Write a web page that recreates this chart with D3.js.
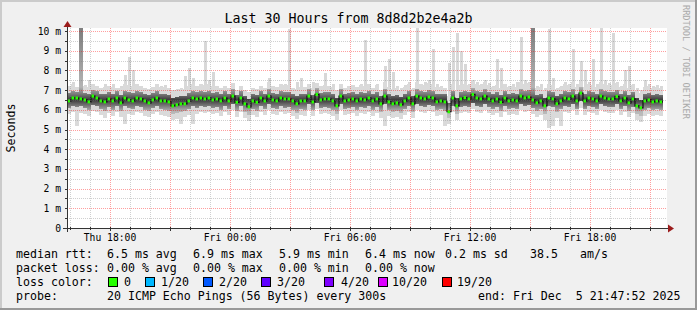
<!DOCTYPE html>
<html>
<head>
<meta charset="utf-8">
<script src="https://cdn.jsdelivr.net/npm/d3@7"></script>
<style>
body { margin: 0; background: #fff; }
svg text { font-family: "DejaVu Sans Mono", monospace; white-space: pre; }
</style>
</head>
<body>
<div id="wrapper"></div>
<script>
// one sample every 12 minutes, values in ms
const med = [
  6.45,6.6,6.6,6.55,6.5,6.4,6.7,6.6,6.45,6.4,
  6.55,6.45,6.6,6.35,6.6,6.5,6.45,6.6,6.55,6.45,
  6.35,6.5,6.6,6.45,6.45,6.4,6.2,6.25,6.3,6.3,
  6.45,6.6,6.55,6.6,6.55,6.6,6.5,6.55,6.45,6.6,
  6.45,6.7,6.38,6.6,6.3,6.15,6.45,6.38,6.6,6.45,
  6.7,6.5,6.45,6.6,6.55,6.55,6.45,6.3,6.45,6.45,
  6.7,6.4,6.78,6.5,6.55,6.55,6.45,6.2,6.7,6.45,
  6.5,6.55,6.45,6.55,6.5,6.6,6.45,6.55,6.3,6.7,
  6.4,6.3,6.35,6.25,6.45,6.6,6.3,6.7,6.6,6.55,
  6.65,6.6,6.4,6.45,6.4,5.9,6.6,6.2,6.55,6.62,
  6.55,6.78,6.6,6.55,6.7,6.55,6.45,6.55,6.38,6.6,
  6.45,6.5,6.45,6.7,6.6,6.65,6.5,6.35,6.45,6.2,
  6.6,6.55,6.3,6.45,6.6,6.55,6.7,6.45,6.85,6.45,
  6.6,6.55,6.45,6.7,6.6,6.55,6.55,6.68,6.45,6.6,
  6.35,6.55,6.2,6.1,6.45,6.5,6.4,6.45,6.4
];
const lo = [
  6.1,6.2,6.15,6.2,6.1,6.0,6.25,6.2,6.05,5.95,
  6.15,6.0,6.2,5.95,6.2,6.1,6.05,6.2,6.15,6.0,
  5.95,6.1,6.2,6.05,6.0,5.95,5.8,5.85,5.9,5.95,
  6.05,6.2,6.1,6.2,6.15,6.2,6.1,6.15,6.0,6.2,
  6.05,6.3,5.95,6.2,5.9,5.75,6.05,5.95,6.2,6.05,
  6.3,6.1,6.05,6.2,6.1,6.15,6.0,5.85,6.05,6.0,
  6.3,6.0,6.35,6.1,6.15,6.1,6.0,5.8,6.3,6.05,
  6.1,6.15,6.0,6.15,6.1,6.2,6.0,6.15,5.9,6.3,
  6.0,5.9,5.95,5.85,6.05,6.2,5.9,6.3,6.2,6.15,
  6.25,6.2,6.0,6.05,5.95,5.6,6.2,5.8,6.15,6.2,
  6.15,6.35,6.2,6.15,6.3,6.15,6.05,6.15,5.95,6.2,
  6.05,6.1,6.05,6.3,6.2,6.25,6.1,5.95,6.05,5.8,
  6.2,6.15,5.9,6.05,6.2,6.15,6.3,6.05,6.45,6.05,
  6.2,6.15,6.05,6.3,6.2,6.15,6.15,6.3,6.05,6.2,
  5.95,6.15,5.8,5.7,6.0,6.1,6.0,6.05,6.0
];
const hi = [
  6.85,6.95,6.9,12,6.85,6.8,7.0,6.95,6.8,6.8,
  6.9,6.8,6.95,6.75,6.95,6.9,6.85,6.95,6.9,6.8,
  6.75,6.85,6.95,6.8,6.8,6.75,6.6,6.65,6.7,6.7,
  6.85,6.95,6.9,6.95,6.9,6.95,6.85,6.9,6.8,6.95,
  6.8,7.05,6.75,6.95,6.7,6.55,6.8,6.75,6.95,6.8,
  7.05,6.85,6.8,6.95,6.9,6.9,6.8,6.7,6.8,6.8,
  7.05,6.75,7.1,6.85,6.9,6.9,6.8,6.6,7.05,6.8,
  6.85,6.9,6.8,6.9,6.85,6.95,6.8,6.9,6.7,7.05,
  6.8,6.7,6.75,6.65,6.8,6.95,6.7,7.05,6.95,6.9,
  7.0,6.95,6.8,6.8,6.8,6.35,6.95,6.6,6.9,6.95,
  6.9,7.1,6.95,6.9,7.05,6.9,6.8,6.9,6.75,6.95,
  6.8,6.85,6.8,7.05,6.95,7.0,12,6.75,6.8,6.6,
  6.95,6.9,6.7,6.8,6.95,6.9,7.05,6.8,7.15,6.8,
  6.95,6.9,6.8,7.05,6.95,6.9,6.9,7.0,6.8,6.95,
  6.75,6.9,6.6,6.5,6.8,6.85,6.75,6.8,6.75
];
const mn = [
  5.8,5.9,5.2,5.85,5.8,5.7,5.95,5.9,5.75,5.6,
  5.85,5.7,5.9,5.65,5.3,5.8,5.75,5.9,5.85,5.7,
  5.65,5.8,5.9,5.75,5.7,5.65,5.5,5.55,5.3,5.65,
  5.75,5.3,5.8,5.9,5.85,5.9,5.8,5.85,5.7,5.9,
  5.75,6.0,5.65,5.9,5.6,5.45,5.75,5.65,5.9,5.75,
  6.0,5.8,5.75,5.9,5.8,5.85,5.7,5.55,5.75,5.7,
  6.0,5.7,6.05,5.8,5.85,5.8,5.7,5.5,6.0,5.75,
  5.8,5.85,5.7,5.85,5.8,5.9,5.7,5.85,5.6,5.2,
  5.7,5.6,5.65,5.55,5.75,5.9,5.6,6.0,5.9,5.85,
  5.95,5.9,5.7,5.75,5.2,5.3,5.9,5.5,5.85,5.9,
  5.85,6.05,5.9,5.85,6.0,5.85,5.75,5.85,5.65,5.9,
  5.75,5.8,5.75,6.0,5.9,5.95,5.8,5.65,5.75,5.5,
  5.1,5.2,5.6,5.2,5.9,5.85,6.0,5.75,6.1,5.75,
  5.9,5.85,5.75,6.0,5.9,5.85,5.85,6.0,5.75,5.9,
  5.65,5.85,5.5,5.4,5.7,5.8,5.7,5.75,5.7
];
const mx = [
  7.2,7.4,7.15,12,7.25,7.5,7.3,7.2,7.1,7.3,
  7.2,7.3,7.1,7.2,7.75,8.7,8.0,7.3,7.2,7.1,
  7.05,7.15,7.3,7.2,7.25,7.1,7.0,7.05,7.1,7.7,
  8.1,7.6,7.2,7.3,9.5,7.5,7.9,7.2,7.1,7.2,
  7.1,7.35,7.0,7.2,7.0,6.9,7.1,7.05,7.2,7.1,
  7.6,7.2,7.15,7.3,7.3,10.1,7.1,7.4,7.6,7.15,
  7.3,7.4,7.35,7.2,7.85,7.2,7.3,7.0,7.3,7.1,
  7.2,7.25,7.15,7.3,9.55,7.3,7.1,7.3,7.0,8.2,
  8.6,7.9,7.2,7.1,7.25,7.4,7.1,10.2,7.3,7.4,
  7.5,9.1,7.3,7.2,7.1,8.4,9.2,9.9,9.0,8.3,
  7.3,7.5,7.4,7.3,7.5,7.35,7.2,8.6,8.1,7.3,
  7.2,7.3,7.4,9.7,7.5,7.4,12,7.2,7.3,7.1,
  10.1,7.6,7.1,7.2,7.4,7.3,9.1,7.3,8.5,8.0,
  7.4,8.6,7.3,10.2,7.5,7.35,9.9,7.4,7.2,8.0,
  8.2,7.3,7.1,7.0,7.5,7.3,7.2,7.25,7.2
];

const yTicks = [0,1,2,3,4,5,6,7,8,9,10];
const yTickLabels = ["0","1 m","2 m","3 m","4 m","5 m","6 m","7 m","8 m","9 m","10 m"];
const xLabelTimes = [new Date(2025,11,4,18), new Date(2025,11,5,0), new Date(2025,11,5,6), new Date(2025,11,5,12), new Date(2025,11,5,18)];
const xLabels = ["Thu 18:00","Fri 00:00","Fri 06:00","Fri 12:00","Fri 18:00"];

const rttStats = ["6.5 ms avg","6.9 ms max","5.9 ms min","6.4 ms now","0.2 ms sd","38.5","am/s"];
const rttX = [107,193,279,365,445,530,580];
const lossStats = ["0.00 % avg","0.00 % max","0.00 % min","0.00 % now"];
const lossX = [107,193,279,365];
const lossLabels = ["0","1/20","2/20","3/20","4/20","10/20","19/20"];
const lossColors = ["#26ff00","#00b8ff","#0059ff","#5e00ff","#7e00ff","#dd00ff","#ff0000"];
const lossBoxX = [108,145,203,261,324,378,442];
const lossLabelX = [124,161,219,277,341,392,457];

const width = 697, height = 310;
const plot = {left: 67, right: 667, top: 28, bottom: 228};
const start = new Date(2025,11,4,15,51);
const end = new Date(2025,11,5,21,51);
const stepMs = 12 * 60 * 1000;

const svg = d3.select("#wrapper").append("svg")
    .attr("width", width)
    .attr("height", height);

// frame
svg.append("rect").attr("width", width).attr("height", height).attr("fill", "#f0f0f0");
svg.append("path").attr("d", `M0,1H${width}M1,0V${height}`).attr("stroke", "#cbcbcb").attr("stroke-width", 2);
svg.append("path").attr("d", `M0,${height-1}H${width}M${width-1},0V${height}`).attr("stroke", "#999").attr("stroke-width", 2);

const xScale = d3.scaleTime().domain([start, end]).range([plot.left, plot.right]);
const yScale = d3.scaleLinear().domain([0, 200 / 19.7]).range([plot.bottom, plot.top]);
const tOf = i => new Date(start.getTime() + i * stepMs);

const defs = svg.append("defs");
defs.append("clipPath").attr("id", "clip")
    .append("rect")
    .attr("x", plot.left).attr("y", plot.top)
    .attr("width", plot.right - plot.left).attr("height", plot.bottom - plot.top);

// smoke shading: dark around the typical median, lighter towards the edges
const smokeGrad = defs.append("linearGradient")
    .attr("id", "smoke")
    .attr("gradientUnits", "userSpaceOnUse")
    .attr("x1", 0).attr("x2", 0)
    .attr("y1", yScale(10)).attr("y2", yScale(5.5));
const gy = v => (yScale(v) - yScale(10)) / (yScale(5.5) - yScale(10));
[[10, "#808080"], [7.15, "#b4b4b4"], [6.8, "#7a7a7a"], [6.5, "#3a3a3a"], [6.2, "#7a7a7a"], [5.9, "#b8b8b8"], [5.5, "#c0c0c0"]]
    .forEach(([v, c]) => smokeGrad.append("stop").attr("offset", gy(v)).attr("stop-color", c));

svg.append("rect")
    .attr("x", plot.left).attr("y", plot.top)
    .attr("width", plot.right - plot.left).attr("height", plot.bottom - plot.top)
    .attr("fill", "#fff");

const data = med.map((m, i) => ({i, med: m, lo: lo[i], hi: hi[i], mn: mn[i], mx: mx[i]}));
const g = svg.append("g").attr("clip-path", "url(#clip)");
const x0 = d => xScale(tOf(d.i));
const stepW = d => xScale(tOf(d.i + 1)) - xScale(tOf(d.i));

// outer smoke: body at full step width, the high outliers as thin spikes
const bodyTop = d => Math.min(d.mx, d.hi + 0.35);
g.append("g").selectAll("rect")
    .data(data)
    .join("rect")
    .attr("x", x0)
    .attr("width", stepW)
    .attr("y", d => yScale(bodyTop(d)))
    .attr("height", d => yScale(d.mn) - yScale(bodyTop(d)))
    .attr("fill", "#dadada")
    .attr("shape-rendering", "crispEdges");
g.append("g").selectAll("rect")
    .data(data.filter(d => d.mx > bodyTop(d)))
    .join("rect")
    .attr("x", d => x0(d) + 1)
    .attr("width", 3)
    .attr("y", d => yScale(d.mx))
    .attr("height", d => yScale(bodyTop(d)) - yScale(d.mx))
    .attr("fill", "#d8d8d8")
    .attr("shape-rendering", "crispEdges");
g.append("g").selectAll("rect")
    .data(data)
    .join("rect")
    .attr("x", x0)
    .attr("width", stepW)
    .attr("y", d => yScale(d.hi))
    .attr("height", d => yScale(d.lo) - yScale(d.hi))
    .attr("fill", "url(#smoke)")
    .attr("shape-rendering", "crispEdges");

// grid drawn over the smoke, as rrdtool does
const grid = svg.append("g").attr("shape-rendering", "crispEdges");
const halfSteps = d3.range(0, 10.5, 0.5);
grid.selectAll(".hgrid")
    .data(halfSteps)
    .join("line")
    .attr("x1", plot.left).attr("x2", plot.right)
    .attr("y1", d => Math.round(yScale(d)) + 0.5)
    .attr("y2", d => Math.round(yScale(d)) + 0.5)
    .attr("stroke", d => d % 1 === 0 ? "rgba(255,0,0,0.38)" : "rgba(120,120,120,0.35)")
    .attr("stroke-dasharray", "1,1");
const hours = d3.timeHour.every(1).range(start, end);
grid.selectAll(".vgrid")
    .data(hours)
    .join("line")
    .attr("x1", d => Math.round(xScale(d)) + 0.5)
    .attr("x2", d => Math.round(xScale(d)) + 0.5)
    .attr("y1", plot.top).attr("y2", plot.bottom)
    .attr("stroke", d => d.getHours() % 3 === 0 ? "rgba(255,0,0,0.38)" : "rgba(120,120,120,0.35)")
    .attr("stroke-dasharray", "1,1");

// median line and loss-colored marks
const medPts = data.map(d => [x0(d), yScale(d.med)]);
medPts.push([xScale(tOf(data.length)), yScale(med[med.length - 1])]);
g.append("path")
    .attr("d", d3.line().curve(d3.curveStepAfter)(medPts))
    .attr("fill", "none")
    .attr("stroke", "#101010")
    .attr("stroke-width", 1.2);
g.append("g").selectAll("rect")
    .data(data)
    .join("rect")
    .attr("x", d => x0(d) + 0.5)
    .attr("y", d => yScale(d.med) - 1.5)
    .attr("width", 2.5)
    .attr("height", 3)
    .attr("fill", lossColors[0]);

// axes
const axisColor = "#333";
svg.append("line")
    .attr("x1", plot.left - 4).attr("x2", plot.right + 2)
    .attr("y1", plot.bottom + 0.5).attr("y2", plot.bottom + 0.5)
    .attr("stroke", axisColor).attr("shape-rendering", "crispEdges");
svg.append("line")
    .attr("x1", plot.left + 0.5).attr("x2", plot.left + 0.5)
    .attr("y1", plot.bottom + 4).attr("y2", plot.top - 2)
    .attr("stroke", axisColor).attr("shape-rendering", "crispEdges");
svg.append("path")
    .attr("d", `M${plot.right + 1},${plot.bottom - 3.5}L${plot.right + 7},${plot.bottom + 0.5}L${plot.right + 1},${plot.bottom + 4.5}Z`)
    .attr("fill", "#9b1c1c");
svg.append("path")
    .attr("d", `M${plot.left - 3.5},${plot.top - 1}L${plot.left + 0.5},${plot.top - 7}L${plot.left + 4.5},${plot.top - 1}Z`)
    .attr("fill", "#9b1c1c");
svg.append("g").selectAll("line")
    .data(hours)
    .join("line")
    .attr("x1", d => Math.round(xScale(d)) + 0.5)
    .attr("x2", d => Math.round(xScale(d)) + 0.5)
    .attr("y1", plot.bottom - 1)
    .attr("y2", d => plot.bottom + (d.getHours() % 3 === 0 ? 3 : 2))
    .attr("stroke", axisColor).attr("shape-rendering", "crispEdges");
svg.append("g").selectAll("line")
    .data(halfSteps)
    .join("line")
    .attr("x1", plot.left - 2).attr("x2", plot.left + 1)
    .attr("y1", d => Math.round(yScale(d)) + 0.5)
    .attr("y2", d => Math.round(yScale(d)) + 0.5)
    .attr("stroke", axisColor).attr("shape-rendering", "crispEdges");

svg.append("g").selectAll("text")
    .data(yTicks)
    .join("text")
    .attr("x", 61)
    .attr("y", d => yScale(d) + 3.5)
    .attr("text-anchor", "end")
    .attr("font-size", "9.7px")
    .attr("fill", "#000")
    .text((d, i) => yTickLabels[i]);
svg.append("g").selectAll("text")
    .data(xLabelTimes)
    .join("text")
    .attr("x", d => xScale(d))
    .attr("y", 241)
    .attr("text-anchor", "middle")
    .attr("font-size", "9.7px")
    .attr("fill", "#000")
    .text((d, i) => xLabels[i]);

// titles
svg.append("text")
    .attr("x", 348.5).attr("y", 23)
    .attr("text-anchor", "middle")
    .attr("font-size", "13.3px")
    .text("Last 30 Hours from 8d8d2b2e4a2b");
svg.append("text")
    .attr("transform", "translate(14.5,128) rotate(-90)")
    .attr("text-anchor", "middle")
    .attr("font-size", "11.6px")
    .text("Seconds");
svg.append("text")
    .attr("transform", "translate(683,5) rotate(90)")
    .attr("font-size", "8.6px")
    .attr("fill", "#aaa")
    .text("RRDTOOL / TOBI OETIKER");

// legend
const legend = svg.append("g").attr("font-size", "11.6px").attr("fill", "#000");
const rowY = [258, 272, 286, 300];
legend.append("text").attr("x", 16).attr("y", rowY[0]).text("median rtt:");
legend.append("text").attr("x", 16).attr("y", rowY[1]).text("packet loss:");
legend.append("text").attr("x", 16).attr("y", rowY[2]).text("loss color:");
legend.append("text").attr("x", 16).attr("y", rowY[3]).text("probe:");
legend.selectAll(".rtt").data(rttStats).join("text")
    .attr("class", "rtt").attr("x", (d, i) => rttX[i]).attr("y", rowY[0]).text(d => d);
legend.selectAll(".loss").data(lossStats).join("text")
    .attr("class", "loss").attr("x", (d, i) => lossX[i]).attr("y", rowY[1]).text(d => d);
legend.selectAll(".lbox").data(lossColors).join("rect")
    .attr("class", "lbox")
    .attr("x", (d, i) => lossBoxX[i] + 0.5).attr("y", 277.5)
    .attr("width", 9).attr("height", 9)
    .attr("fill", d => d).attr("stroke", "#000")
    .attr("shape-rendering", "crispEdges");
legend.selectAll(".llab").data(lossLabels).join("text")
    .attr("class", "llab").attr("x", (d, i) => lossLabelX[i]).attr("y", rowY[2]).text(d => d);
legend.append("text").attr("x", 107).attr("y", rowY[3]).text("20 ICMP Echo Pings (56 Bytes) every 300s");
legend.append("text").attr("x", 478).attr("y", rowY[3]).text("end: Fri Dec  5 21:47:52 2025");
</script>
</body>
</html>
